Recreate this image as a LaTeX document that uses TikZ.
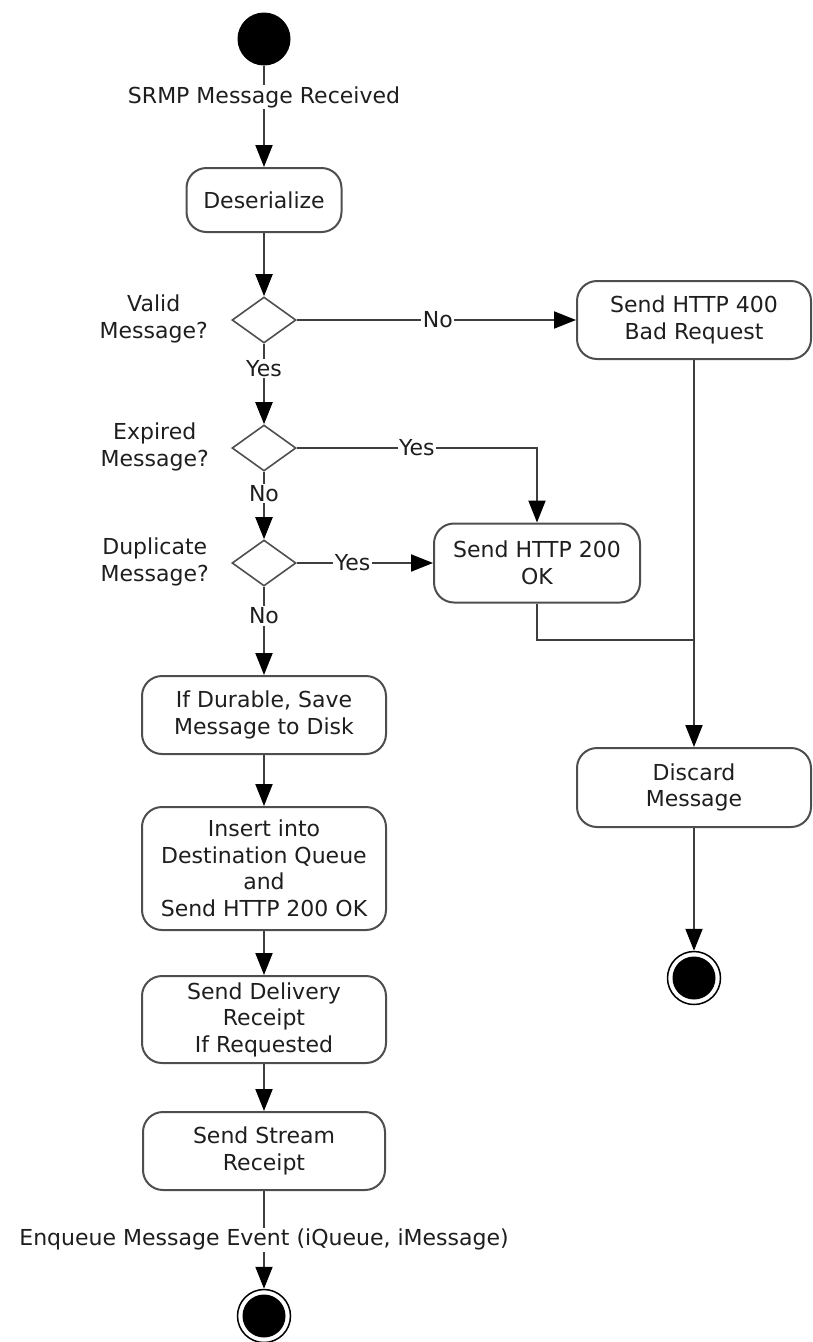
\documentclass[tikz,border=0pt]{standalone}
\usepackage{fontspec}
\setmainfont{DejaVu Sans}
\usetikzlibrary{shapes.geometric,arrows.meta}
\definecolor{linegray}{RGB}{62,62,62}
\definecolor{boxgray}{RGB}{78,78,78}
\definecolor{txt}{RGB}{30,30,30}
\begin{document}
\begin{tikzpicture}[x=1pt,y=-1pt,
  every node/.style={font=\fontsize{22}{26.5}\selectfont, text=txt},
  act/.style={draw=boxgray, line width=2pt, rounded corners=20pt, align=center, inner sep=0pt},
  dec/.style={diamond, draw=boxgray, line width=1.6pt, minimum width=64pt, minimum height=46pt, inner sep=0pt},
  qlbl/.style={align=center, inner sep=0pt, anchor=east},
  lbl/.style={fill=white, inner sep=1.5pt},
  startc/.style={circle, fill=black, minimum size=53pt, inner sep=0pt},
  endc/.style={circle, draw=black, line width=1.5pt, minimum size=53pt, inner sep=0pt,
    path picture={\fill[black] (path picture bounding box.center) circle (21.5pt);}},
  conn/.style={draw=linegray, line width=2pt},
  arr/.style={conn, -{Triangle[length=22pt,width=17pt,color=black]}}
]
\useasboundingbox (0,0) rectangle (812,1342);

% left column
\node[startc] (start) at (264,39) {};
\node[lbl] (srmp) at (264,97) {SRMP Message Received};
\node[act, minimum width=155pt, minimum height=64pt] (deser) at (264,200) {Deserialize};
\node[dec] (d1) at (264,320) {};
\node[qlbl] (q1) at (208,319) {Valid\\Message?};
\node[dec] (d2) at (264,448) {};
\node[qlbl] (q2) at (209,447) {Expired\\Message?};
\node[dec] (d3) at (264,563) {};
\node[qlbl] (q3) at (209,562) {Duplicate\\Message?};
\node[act, minimum width=244pt, minimum height=78pt] (dur) at (264,715) {If Durable, Save\\Message to Disk};
\node[act, minimum width=244pt, minimum height=123pt] (ins) at (264,868.5) {Insert into\\Destination Queue\\and\\Send HTTP 200 OK};
\node[act, minimum width=244pt, minimum height=87pt] (del) at (264,1019.5) {Send Delivery\\Receipt\\If Requested};
\node[act, minimum width=242pt, minimum height=78pt] (str) at (264,1151) {Send Stream\\Receipt};
\node[endc] (end1) at (264,1316) {};

% right column
\node[act, minimum width=234pt, minimum height=78pt] (s400) at (694,320) {Send HTTP 400\\Bad Request};
\node[act, minimum width=206pt, minimum height=79pt] (s200) at (537,563) {Send HTTP 200\\OK};
\node[act, minimum width=234pt, minimum height=79pt] (disc) at (694,787.5) {Discard\\Message};
\node[endc] (end2) at (694,978) {};
\coordinate (m) at (694,640);

% connectors
\draw[conn] (start) -- (srmp);
\draw[arr] (srmp) -- (deser);
\draw[arr] (deser) -- (d1);
\draw[arr] (d1) -- node[lbl,pos=0.505]{No} (s400);
\draw[arr] (d1) -- node[lbl,pos=0.31]{Yes} (d2);
\draw[arr] (d2.east) -| node[lbl,pos=0.25]{Yes} (s200.north);
\draw[arr] (d2) -- node[lbl,pos=0.32]{No} (d3);
\draw[arr] (d3) -- node[lbl,pos=0.41]{Yes} (s200);
\draw[arr] (d3) -- node[lbl,pos=0.33]{No} (dur);
\draw[arr] (dur) -- (ins);
\draw[arr] (ins) -- (del);
\draw[arr] (del) -- (str);
\draw[arr] (str) -- node[lbl,pos=0.5]{Enqueue Message Event (iQueue, iMessage)} (end1);
\draw[arr] (s400) -- (disc);
\draw[conn] (s200.south) |- (m);
\draw[arr] (disc) -- (end2);
\end{tikzpicture}
\end{document}
